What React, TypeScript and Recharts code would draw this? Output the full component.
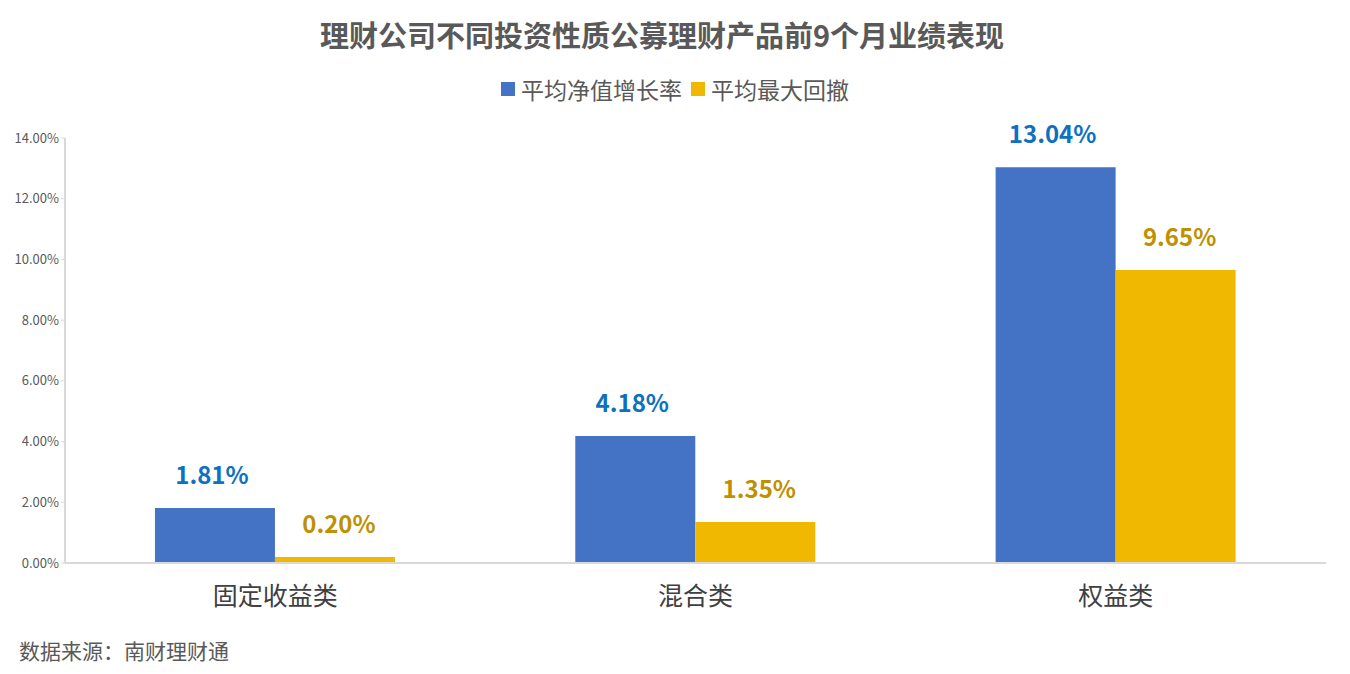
import React from 'react';
import { BarChart, Bar, XAxis, YAxis, LabelList } from 'recharts';

const categories = ['固定收益类', '混合类', '权益类'];
const navGrowth = [1.81, 4.18, 13.04];
const maxDrawdown = [0.2, 1.35, 9.65];
const yTicks = [0, 2, 4, 6, 8, 10, 12, 14];

const data = categories.map((c, i) => ({ name: c, a: navGrowth[i], b: maxDrawdown[i] }));

const FONT = '"Noto Sans CJK SC", "Noto Sans", sans-serif';
const BLUE = '#4472C4';
const GOLD = '#F0B800';

const makeLabel = (color: string, dx: number) => (props: any) => {
  const { x, y, width, value } = props;
  return (
    <text
      x={x + width / 2 + dx}
      y={y - 24}
      textAnchor="middle"
      fill={color}
      fontSize={24}
      fontWeight="bold"
      fontFamily={FONT}
    >
      {Number(value).toFixed(2) + '%'}
    </text>
  );
};

export default function App() {
  return (
    <div style={{ position: 'absolute', left: 0, top: 0, width: 1350, height: 674, background: '#fff', fontFamily: FONT }}>
      <div style={{ position: 'absolute', left: 0, top: 12, width: 1324, textAlign: 'center', fontSize: 29, fontWeight: 'bold', color: '#595959', lineHeight: '44px' }}>
        理财公司不同投资性质公募理财产品前9个月业绩表现
      </div>
      <div style={{ position: 'absolute', left: 0, top: 72, width: 1350, textAlign: 'center', fontSize: 23, color: '#595959', display: 'flex', justifyContent: 'center', alignItems: 'center' }}>
        <span style={{ display: 'inline-block', width: 14, height: 14, background: BLUE, marginRight: 6 }} />
        <span style={{ marginRight: 9 }}>平均净值增长率</span>
        <span style={{ display: 'inline-block', width: 14, height: 14, background: GOLD, marginRight: 6 }} />
        <span>平均最大回撤</span>
      </div>
      <div style={{ position: 'absolute', left: 19, top: 635, fontSize: 21, color: '#595959', lineHeight: '30px' }}>数据来源：南财理财通</div>
      <BarChart
        width={1350}
        height={674}
        data={data}
        margin={{ top: 138, right: 24, left: 0, bottom: 61 }}
        barCategoryGap="21.4%"
        barGap={0}
        style={{ position: 'absolute', left: 0, top: 0 }}
      >
        <XAxis
          dataKey="name"
          height={50}
          axisLine={{ stroke: '#D9D9D9', strokeWidth: 2 }}
          tickLine={false}
          tick={{ fill: '#404040', fontSize: 25, fontFamily: FONT }}
          tickMargin={18}
        />
        <YAxis
          width={65}
          domain={[0, 14]}
          ticks={yTicks}
          interval={0}
          axisLine={{ stroke: '#D9D9D9', strokeWidth: 2 }}
          tickLine={{ stroke: '#D9D9D9' }}
          tickSize={4}
          tickFormatter={(v: number) => v.toFixed(2) + '%'}
          tick={{ fill: '#595959', fontSize: 13, fontFamily: FONT }}
        />
        <Bar dataKey="a" fill={BLUE} isAnimationActive={false}>
          <LabelList dataKey="a" content={makeLabel('#0E70C0', -3)} />
        </Bar>
        <Bar dataKey="b" fill={GOLD} isAnimationActive={false}>
          <LabelList dataKey="b" content={makeLabel('#BF9000', 4)} />
        </Bar>
      </BarChart>
    </div>
  );
}
